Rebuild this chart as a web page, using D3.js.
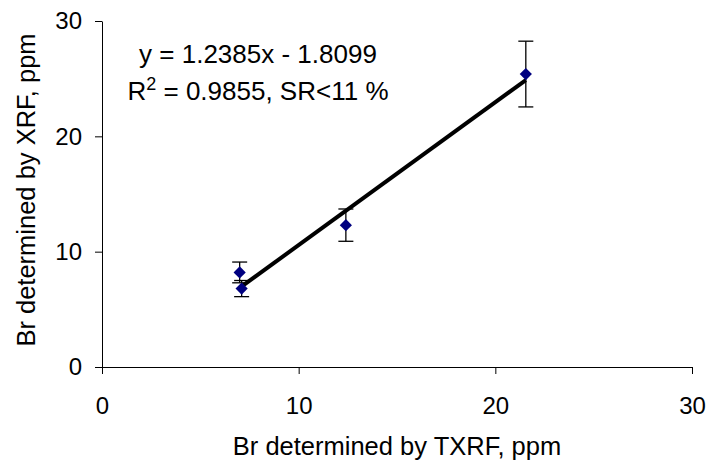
<!DOCTYPE html>
<html>
<head>
<meta charset="utf-8">
<script src="https://cdn.jsdelivr.net/npm/d3@7"></script>
<style>
  body { margin: 0; background: #fff; }
  text { font-family: Arial, "Liberation Sans", sans-serif; fill: #000; }
</style>
</head>
<body>
<div id="chart"></div>
<script>
// data
const txrf = [7.0, 7.1, 12.4, 21.55];
const xrf = [8.2, 6.8, 12.3, 25.4];
const xrfErr = [0.9, 0.7, 1.4, 2.85];
const xTicks = [0, 10, 20, 30];
const yTicks = [0, 10, 20, 30];
const slope = 1.2385, intercept = -1.8099;

const width = 707, height = 466;
const margin = { top: 21, right: 15, bottom: 99, left: 102 };

const svg = d3.select("#chart").append("svg")
  .attr("width", width)
  .attr("height", height);

const x = d3.scaleLinear().domain([0, 30]).range([margin.left, 692]);
const y = d3.scaleLinear().domain([0, 30]).range([367, margin.top]);

// axes
const xAxis = svg.append("g")
  .attr("transform", `translate(0,${y(0)})`)
  .call(d3.axisBottom(x).tickValues(xTicks).tickSize(7).tickPadding(23).tickSizeOuter(0));
const yAxis = svg.append("g")
  .attr("transform", `translate(${x(0)},0)`)
  .call(d3.axisLeft(y).tickValues(yTicks).tickSize(7).tickPadding(13).tickSizeOuter(0));

[xAxis, yAxis].forEach(g => {
  g.select(".domain").attr("stroke", "#000").attr("stroke-width", 1);
  g.selectAll(".tick line").attr("stroke", "#000");
  g.selectAll(".tick text").style("font-size", "24px").attr("fill", "#000");
});

// axis titles
svg.append("text")
  .attr("x", 397).attr("y", 455)
  .attr("text-anchor", "middle")
  .style("font-size", "25.5px")
  .text("Br determined by TXRF, ppm");

svg.append("text")
  .attr("transform", `translate(35,${190}) rotate(-90)`)
  .attr("text-anchor", "middle")
  .style("font-size", "25.5px")
  .text("Br determined by XRF, ppm");

// regression line over the data range
const xr = d3.extent(txrf);
svg.append("line")
  .attr("x1", x(xr[0])).attr("y1", y(slope * xr[0] + intercept))
  .attr("x2", x(xr[1])).attr("y2", y(slope * xr[1] + intercept))
  .attr("stroke", "#000")
  .attr("stroke-width", 4);

// error bars
const pts = txrf.map((d, i) => ({ x: d, y: xrf[i], e: xrfErr[i] }));
const eb = svg.append("g").attr("stroke", "#000").attr("stroke-width", 1.3);
pts.forEach(p => {
  eb.append("line")
    .attr("x1", x(p.x)).attr("x2", x(p.x))
    .attr("y1", y(p.y - p.e)).attr("y2", y(p.y + p.e));
  [p.y - p.e, p.y + p.e].forEach(v => {
    eb.append("line")
      .attr("x1", x(p.x) - 7.5).attr("x2", x(p.x) + 7.5)
      .attr("y1", y(v)).attr("y2", y(v));
  });
});

// diamonds
svg.selectAll("path.pt")
  .data(pts)
  .enter()
  .append("path")
  .attr("class", "pt")
  .attr("d", d3.symbol().type(d3.symbolDiamond2).size(95))
  .attr("transform", d => `translate(${x(d.x)},${y(d.y)})`)
  .attr("fill", "#000080");

// equation
const eq = svg.append("g").style("font-size", "26px");
eq.append("text")
  .attr("x", 258).attr("y", 63)
  .attr("text-anchor", "middle")
  .text(`y = ${slope}x - ${Math.abs(intercept)}`);
const r2 = eq.append("text")
  .attr("x", 258).attr("y", 100)
  .attr("text-anchor", "middle");
r2.append("tspan").text("R");
r2.append("tspan").attr("dy", -10).style("font-size", "18px").text("2");
r2.append("tspan").attr("dy", 10).text(" = 0.9855, SR<11 %");
</script>
</body>
</html>
